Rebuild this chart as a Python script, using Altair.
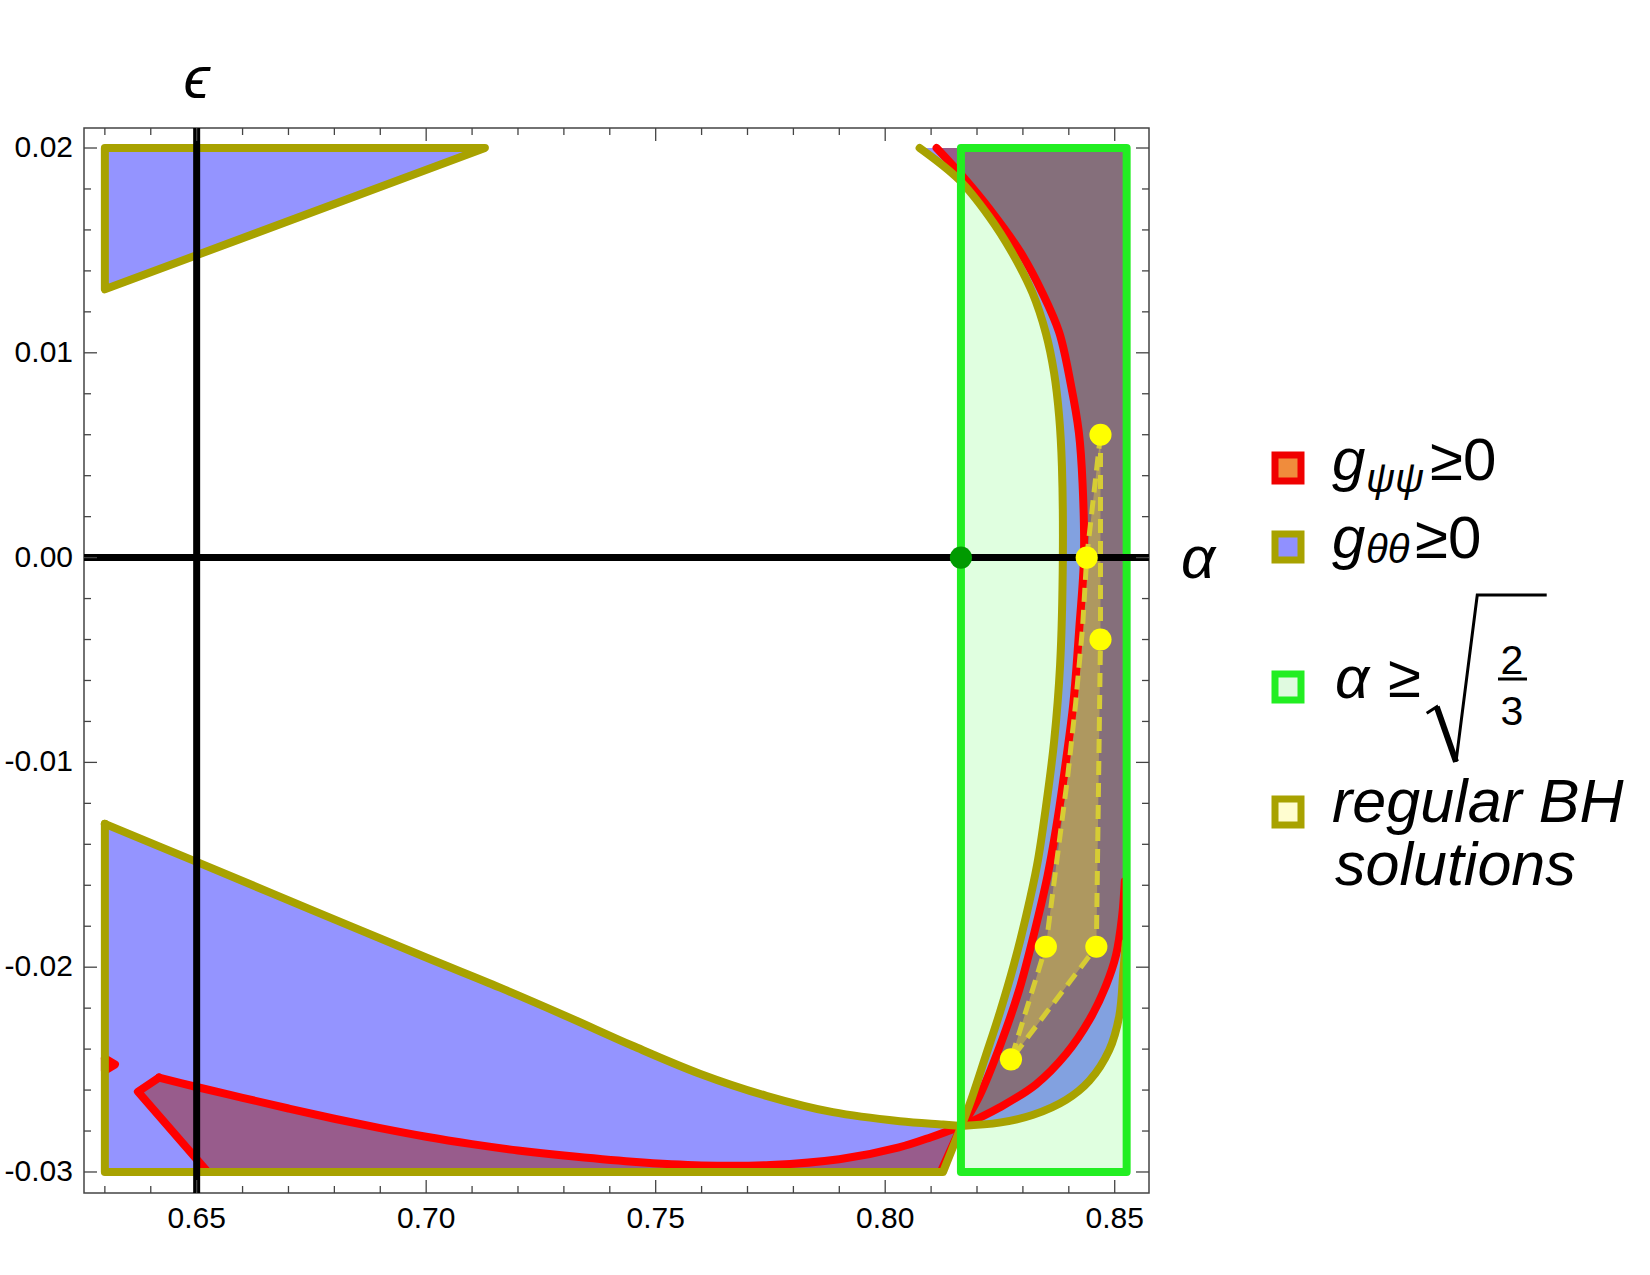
import altair as alt
import pandas as pd

# ---------------- axis ranges and ticks ----------------
ALPHA_DOMAIN = [0.625455, 0.85747]
EPS_DOMAIN = [-0.031026, 0.020977]

X_MAJOR = [0.65, 0.70, 0.75, 0.80, 0.85]
X_MINOR = [0.63, 0.64, 0.66, 0.67, 0.68, 0.69, 0.71, 0.72, 0.73, 0.74,
           0.76, 0.77, 0.78, 0.79, 0.81, 0.82, 0.83, 0.84]
Y_MAJOR = [-0.03, -0.02, -0.01, 0.0, 0.01, 0.02]
Y_MINOR = [-0.028, -0.026, -0.024, -0.022, -0.018, -0.016, -0.014, -0.012,
           -0.008, -0.006, -0.004, -0.002, 0.002, 0.004, 0.006, 0.008,
           0.012, 0.014, 0.016, 0.018]
X_LABELS = ["0.65", "0.70", "0.75", "0.80", "0.85"]
Y_LABELS = ["-0.03", "-0.02", "-0.01", "0.00", "0.01", "0.02"]

# ---------------- g_theta_theta >= 0 regions ----------------
UL_ALPHA = [0.630, 0.7128, 0.630]
UL_EPS = [0.020, 0.020, 0.0131]

LL_TOP_ALPHA = [0.630, 0.650, 0.675, 0.700, 0.7161, 0.7306, 0.7451, 0.7596,
                0.7741, 0.7886, 0.8032, 0.8126, 0.8166]
LL_TOP_EPS = [-0.0130, -0.01486, -0.0172, -0.01953, -0.02100, -0.02240,
              -0.02385, -0.02520, -0.02628, -0.02708, -0.02752, -0.02768, -0.02775]
LL_BOT_ALPHA = [0.8166, 0.8126, 0.630, 0.630]
LL_BOT_EPS = [-0.02775, -0.030, -0.030, -0.0130]

RB_LEFT_ALPHA = [0.8075, 0.8161, 0.8226, 0.8277, 0.8321, 0.8350, 0.8368, 0.8379,
                 0.8385, 0.8387, 0.8381, 0.8368, 0.8350, 0.8331, 0.8307, 0.8280,
                 0.8250, 0.8218, 0.8187, 0.8166]
RB_LEFT_EPS = [0.0200, 0.01845, 0.01666, 0.01487, 0.01292, 0.01096, 0.00901, 0.00689,
               0.00445, 0.0000, -0.00525, -0.00897, -0.0122, -0.0150, -0.0175,
               -0.0199, -0.0222, -0.0244, -0.0265, -0.02775]
RB_LOW_ALPHA = [0.8166, 0.8249, 0.8321, 0.8394, 0.8445, 0.8488, 0.8510, 0.8519, 0.8524]
RB_LOW_EPS = [-0.02775, -0.02759, -0.02722, -0.02648, -0.02554, -0.02405, -0.02238,
              -0.02015, -0.0188]
RB_EDGE_ALPHA = [0.8525, 0.8525]
RB_EDGE_EPS = [-0.0188, 0.0200]

# ---------------- g_psi_psi >= 0 regions ----------------
RL_CURVE_ALPHA = [0.6418, 0.6500, 0.6600, 0.6700, 0.6800, 0.6900, 0.7000, 0.7100,
                  0.7200, 0.7300, 0.7450, 0.7600, 0.7750, 0.7900, 0.8030, 0.8100, 0.8166]
RL_CURVE_EPS = [-0.02539, -0.02585, -0.02638, -0.02690, -0.02740, -0.02786, -0.02828,
                -0.02864, -0.02895, -0.02920, -0.02950, -0.02968, -0.02966, -0.02938,
                -0.02880, -0.02830, -0.02775]
RL_REST_ALPHA = [0.8166, 0.8121, 0.6524, 0.6372, 0.6418]
RL_REST_EPS = [-0.02775, -0.0300, -0.0300, -0.02608, -0.02539]

SLIVER_ALPHA = [0.6300, 0.6322, 0.6300]
SLIVER_EPS = [-0.02445, -0.02475, -0.02505]

RR_LEFT_ALPHA = [0.8112, 0.8173, 0.8228, 0.8295, 0.8343, 0.8379, 0.8404, 0.8422,
                 0.8430, 0.8433, 0.8423, 0.8410, 0.8394, 0.8376, 0.8354, 0.8325,
                 0.8292, 0.8249, 0.8205, 0.8168]
RR_LEFT_EPS = [0.0200, 0.0185, 0.0170, 0.0149, 0.0129, 0.0110, 0.0085, 0.0061,
               0.0036, 0.0000, -0.0034, -0.0071, -0.0099, -0.0127, -0.0155, -0.0183,
               -0.0211, -0.0239, -0.0263, -0.02775]
RR_LOW_ALPHA = [0.8168, 0.8249, 0.8328, 0.8394, 0.8445, 0.8481, 0.8503, 0.8516, 0.8522]
RR_LOW_EPS = [-0.02775, -0.02685, -0.02573, -0.02424, -0.02257, -0.02089, -0.0194,
              -0.01754, -0.0158]
RR_EDGE_ALPHA = [0.8525, 0.8525]
RR_EDGE_EPS = [-0.0158, 0.0200]

# ---------------- alpha >= sqrt(2/3) ----------------
GREEN_ALPHA = [0.8165, 0.8526, 0.8526, 0.8165]
GREEN_EPS = [-0.030, -0.030, 0.020, 0.020]
GREEN_DOT_ALPHA = [0.8165]
GREEN_DOT_EPS = [0.0]

# ---------------- regular BH solutions ----------------
BH_ALPHA = [0.8469, 0.8439, 0.8430, 0.8415, 0.8397, 0.8375, 0.8350, 0.8274, 0.8460, 0.8469]
BH_EPS = [0.006, 0.000, -0.0034, -0.0071, -0.0108, -0.0146, -0.019, -0.0245, -0.019, -0.004]
BH_DOT_ALPHA = [0.8469, 0.8439, 0.8469, 0.8460, 0.8350, 0.8274]
BH_DOT_EPS = [0.006, 0.000, -0.004, -0.019, -0.019, -0.0245]

LEGEND_LABELS = ["regular BH", "solutions"]

# ---------------- styles ----------------
W, H = 1065, 1065
OLIVE = "#A8A200"
RED = "#FF0000"
GREEN = "#22EE22"
DASH = "#D6CC34"
FONT = "Liberation Sans"
LW = 8

XS = alt.Scale(domain=ALPHA_DOMAIN, nice=False, zero=False)
YS = alt.Scale(domain=EPS_DOMAIN, nice=False, zero=False)
X = alt.X("a:Q", scale=XS, axis=None)
Y = alt.Y("e:Q", scale=YS, axis=None)


def pts(alphas, epss, close=False):
    a = list(alphas)
    e = list(epss)
    if close:
        a.append(a[0])
        e.append(e[0])
    return pd.DataFrame({"a": a, "e": e, "i": list(range(len(a)))})


def fill(df, color, op):
    return alt.Chart(df).mark_line(fill=color, fillOpacity=op, strokeOpacity=0).encode(
        x=X, y=Y, order="i:Q")


def stroke(df, color, width, curve=False, dash=None):
    kw = dict(color=color, strokeWidth=width, strokeJoin="round", strokeCap="round",
              interpolate="catmull-rom" if curve else "linear")
    if dash:
        kw["strokeDash"] = dash
        kw["strokeCap"] = "butt"
    return alt.Chart(df).mark_line(**kw).encode(x=X, y=Y, order="i:Q")


ul = pts(UL_ALPHA, UL_EPS, True)
ll_top = pts(LL_TOP_ALPHA, LL_TOP_EPS)
ll_rest = pts(LL_BOT_ALPHA, LL_BOT_EPS)
ll = pts(LL_TOP_ALPHA + LL_BOT_ALPHA, LL_TOP_EPS + LL_BOT_EPS)
rb_left = pts(RB_LEFT_ALPHA, RB_LEFT_EPS)
rb_low = pts(RB_LOW_ALPHA, RB_LOW_EPS)
rb = pts(RB_LEFT_ALPHA + RB_LOW_ALPHA + RB_EDGE_ALPHA, RB_LEFT_EPS + RB_LOW_EPS + RB_EDGE_EPS)
rl_curve = pts(RL_CURVE_ALPHA, RL_CURVE_EPS)
rl_rest = pts(RL_REST_ALPHA, RL_REST_EPS)
rl = pts(RL_CURVE_ALPHA + RL_REST_ALPHA, RL_CURVE_EPS + RL_REST_EPS)
sl = pts(SLIVER_ALPHA, SLIVER_EPS, True)
rr_left = pts(RR_LEFT_ALPHA, RR_LEFT_EPS)
rr_low = pts(RR_LOW_ALPHA, RR_LOW_EPS)
rr = pts(RR_LEFT_ALPHA + RR_LOW_ALPHA + RR_EDGE_ALPHA, RR_LEFT_EPS + RR_LOW_EPS + RR_EDGE_EPS)
gr = pts(GREEN_ALPHA, GREEN_EPS, True)
bh = pts(BH_ALPHA, BH_EPS, True)

layers = []
# fills
for d in (ul, ll, rb):
    layers.append(fill(d, "#7070FF", 0.75))
for d in (rl, sl, rr):
    layers.append(fill(d, "#9B2E2E", 0.55))
layers.append(fill(gr, "#00FF00", 0.12))
layers.append(fill(bh, "#E6D23C", 0.42))
# red boundaries
layers += [stroke(rl_curve, RED, LW, True), stroke(rl_rest, RED, LW),
           stroke(sl, RED, LW), stroke(rr_left, RED, LW, True), stroke(rr_low, RED, LW, True)]
# olive boundaries
layers += [stroke(ul, OLIVE, LW), stroke(ll_top, OLIVE, LW, True), stroke(ll_rest, OLIVE, LW),
           stroke(rb_left, OLIVE, LW, True), stroke(rb_low, OLIVE, LW, True)]
# green rectangle and BH polygon
layers.append(stroke(gr, GREEN, 8))
layers.append(stroke(bh, DASH, 5, dash=[14, 8]))

# black coordinate axes through alpha=0.65 and eps=0
axes_df = pd.DataFrame({"a": [0.65], "e": [0.0]})
layers.append(alt.Chart(axes_df).mark_rule(color="black", strokeWidth=7).encode(
    x=X, y=alt.value(0), y2=alt.value(H)))
layers.append(alt.Chart(axes_df).mark_rule(color="black", strokeWidth=7).encode(
    y=Y, x=alt.value(0), x2=alt.value(W)))

# dots
layers.append(alt.Chart(pd.DataFrame({"a": GREEN_DOT_ALPHA, "e": GREEN_DOT_EPS}))
              .mark_circle(size=490, color="#009A00", opacity=1).encode(x=X, y=Y))
layers.append(alt.Chart(pd.DataFrame({"a": BH_DOT_ALPHA, "e": BH_DOT_EPS}))
              .mark_circle(size=490, color="#FFFF00", opacity=1).encode(x=X, y=Y))

# frame ticks (inward)
TC = "#444444"
xmaj = pd.DataFrame({"a": X_MAJOR, "t": X_LABELS})
xmin = pd.DataFrame({"a": X_MINOR})
ymaj = pd.DataFrame({"e": Y_MAJOR, "t": Y_LABELS})
ymin = pd.DataFrame({"e": Y_MINOR})
for d, L in ((xmaj, 13), (xmin, 7)):
    layers.append(alt.Chart(d).mark_rule(color=TC, strokeWidth=1.3).encode(
        x=X, y=alt.value(H), y2=alt.value(H - L)))
    layers.append(alt.Chart(d).mark_rule(color=TC, strokeWidth=1.3).encode(
        x=X, y=alt.value(0), y2=alt.value(L)))
for d, L in ((ymaj, 13), (ymin, 7)):
    layers.append(alt.Chart(d).mark_rule(color=TC, strokeWidth=1.3).encode(
        y=Y, x=alt.value(0), x2=alt.value(L)))
    layers.append(alt.Chart(d).mark_rule(color=TC, strokeWidth=1.3).encode(
        y=Y, x=alt.value(W), x2=alt.value(W - L)))

# tick labels
layers.append(alt.Chart(xmaj).mark_text(font=FONT, fontSize=30, align="center",
                                        baseline="top", color="black").encode(
    x=X, y=alt.value(H + 11), text="t:N"))
layers.append(alt.Chart(ymaj).mark_text(font=FONT, fontSize=30, align="right",
                                        baseline="middle", color="black").encode(
    y=Y, x=alt.value(-11), text="t:N"))

# axis symbols
one = pd.DataFrame({"k": [0]})
layers.append(alt.Chart(one).mark_text(text="ϵ", font=FONT, fontSize=60, fontStyle="italic",
                                       align="center", baseline="alphabetic", color="black").encode(
    x=alt.datum(0.65, scale=XS), y=alt.value(-30)))
layers.append(alt.Chart(one).mark_text(text="α", font=FONT, fontSize=60, fontStyle="italic",
                                       align="left", baseline="alphabetic", dy=20, color="black").encode(
    x=alt.value(1097), y=alt.datum(0.0, scale=YS)))


# legend
def sq(cy, strokec, fillc):
    return alt.Chart(one).mark_square(size=676, fill=fillc, stroke=strokec, strokeWidth=7,
                                      opacity=1, fillOpacity=1).encode(
        x=alt.value(1204), y=alt.value(cy))


def txt(t, x, y, size, italic=True, align="left"):
    kw = dict(text=t, font=FONT, fontSize=size, align=align, baseline="alphabetic",
              color="black")
    if italic:
        kw["fontStyle"] = "italic"
    return alt.Chart(one).mark_text(**kw).encode(x=alt.value(x), y=alt.value(y))


layers += [
    sq(340, "#F00000", "#F08C3C"),
    sq(419, OLIVE, "#9090FF"),
    sq(559, GREEN, "#E0FAE0"),
    sq(684, OLIVE, "#FFFDD0"),
    txt("g", 1248, 352, 60), txt("ψψ", 1282, 364, 40), txt("≥0", 1346, 352, 60, italic=False),
    txt("g", 1248, 430, 60), txt("θθ", 1282, 435, 40), txt("≥0", 1331, 430, 60, italic=False),
    txt("α", 1251, 570, 60), txt("≥", 1304, 569, 60, italic=False),
    txt("2", 1428, 546, 41, italic=False, align="center"),
    txt("3", 1428, 597, 41, italic=False, align="center"),
    txt(LEGEND_LABELS[0], 1248, 694, 61), txt(LEGEND_LABELS[1], 1251, 757, 61),
]
# radical sign and fraction bar
layers.append(alt.Chart(one).mark_point(
    shape="M-0.706,0.412 L-0.588,0.334 L-0.361,0.981 L-0.111,-0.98 L0.706,-0.98",
    size=28900, filled=False, stroke="black", strokeWidth=3, opacity=1,
    strokeJoin="miter").encode(x=alt.value(1402.7), y=alt.value(550.3)))
layers.append(alt.Chart(one).mark_point(
    shape="M-0.588,0.334 L-0.361,0.981",
    size=28900, filled=False, stroke="black", strokeWidth=6, opacity=1).encode(
    x=alt.value(1402.7), y=alt.value(550.3)))
layers.append(alt.Chart(one).mark_rule(color="black", strokeWidth=3).encode(
    x=alt.value(1414), x2=alt.value(1443), y=alt.value(551)))

chart = alt.layer(*layers).properties(
    width=W, height=H,
    padding={"left": 84, "top": 128, "right": 501, "bottom": 82},
    autosize=alt.AutoSizeParams(type="none"),
    background="white",
).configure_view(stroke="#444444", strokeWidth=1.5)

chart.save("out.html", embed_options={"renderer": "svg", "actions": False})
